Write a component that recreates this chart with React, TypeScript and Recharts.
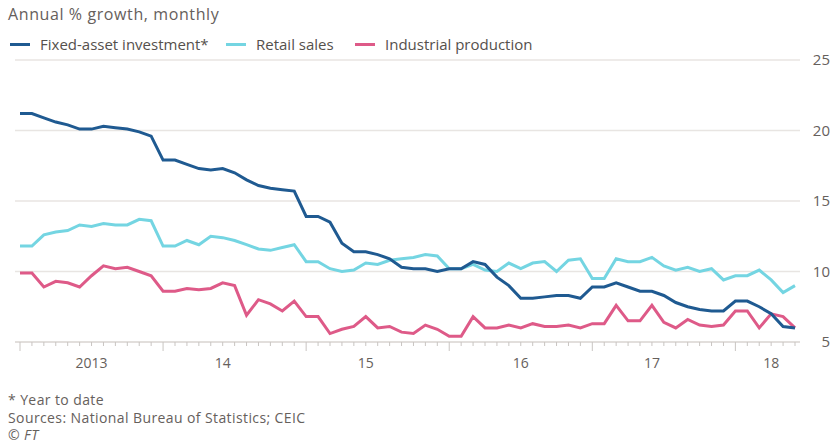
import { CartesianGrid, Line, LineChart, XAxis, YAxis } from "recharts"

const years = ["2013", "2014", "2015", "2016", "2017", "2018"]
const monthNames = ["Jan", "Feb", "Mar", "Apr", "May", "Jun", "Jul", "Aug", "Sep", "Oct", "Nov", "Dec"]
const months = years.flatMap((y) => monthNames.map((m) => `${m} ${y}`)).slice(0, 66)

// Fixed-asset investment, year to date
const fixedAsset = [
  21.2, 21.2, 20.9, 20.6, 20.4, 20.1, 20.1, 20.3, 20.2, 20.1, 19.9, 19.6,
  17.9, 17.9, 17.6, 17.3, 17.2, 17.3, 17.0, 16.5, 16.1, 15.9, 15.8, 15.7,
  13.9, 13.9, 13.5, 12.0, 11.4, 11.4, 11.2, 10.9, 10.3, 10.2, 10.2, 10.0,
  10.2, 10.2, 10.7, 10.5, 9.6, 9.0, 8.1, 8.1, 8.2, 8.3, 8.3, 8.1,
  8.9, 8.9, 9.2, 8.9, 8.6, 8.6, 8.3, 7.8, 7.5, 7.3, 7.2, 7.2,
  7.9, 7.9, 7.5, 7.0, 6.1, 6.0,
]

const retail = [
  11.8, 11.8, 12.6, 12.8, 12.9, 13.3, 13.2, 13.4, 13.3, 13.3, 13.7, 13.6,
  11.8, 11.8, 12.2, 11.9, 12.5, 12.4, 12.2, 11.9, 11.6, 11.5, 11.7, 11.9,
  10.7, 10.7, 10.2, 10.0, 10.1, 10.6, 10.5, 10.8, 10.9, 11.0, 11.2, 11.1,
  10.2, 10.2, 10.5, 10.1, 10.0, 10.6, 10.2, 10.6, 10.7, 10.0, 10.8, 10.9,
  9.5, 9.5, 10.9, 10.7, 10.7, 11.0, 10.4, 10.1, 10.3, 10.0, 10.2, 9.4,
  9.7, 9.7, 10.1, 9.4, 8.5, 9.0,
]

const industrial = [
  9.9, 9.9, 8.9, 9.3, 9.2, 8.9, 9.7, 10.4, 10.2, 10.3, 10.0, 9.7,
  8.6, 8.6, 8.8, 8.7, 8.8, 9.2, 9.0, 6.9, 8.0, 7.7, 7.2, 7.9,
  6.8, 6.8, 5.6, 5.9, 6.1, 6.8, 6.0, 6.1, 5.7, 5.6, 6.2, 5.9,
  5.4, 5.4, 6.8, 6.0, 6.0, 6.2, 6.0, 6.3, 6.1, 6.1, 6.2, 6.0,
  6.3, 6.3, 7.6, 6.5, 6.5, 7.6, 6.4, 6.0, 6.6, 6.2, 6.1, 6.2,
  7.2, 7.2, 6.0, 7.0, 6.8, 6.0,
]

const yTicks = [5, 10, 15, 20, 25]
const yearLabels: Record<string, string> = {
  "Jul 2013": "2013",
  "Jun 2014": "14",
  "Jun 2015": "15",
  "Jul 2016": "16",
  "Jun 2017": "17",
  "Apr 2018": "18",
}

const data = months.map((m, i) => ({
  month: m,
  fai: fixedAsset[i],
  retail: retail[i],
  ip: industrial[i],
}))

const COLORS = { fai: "#1f5a91", retail: "#74d5e2", ip: "#de5a88" }
const FONT = "'Open Sans', 'Noto Sans', sans-serif"
const GREY = "#66605c"

const MonthTick = ({ x, y, payload }: any) => {
  const isJan = String(payload.value).startsWith("Jan")
  const label = yearLabels[payload.value]
  return (
    <g>
      <line x1={x} x2={x} y1={y} y2={y + (isJan ? 9 : 4)} stroke="#c9c5c2" strokeWidth={1} />
      {label && (
        <text x={x} y={y + 26} textAnchor="middle" fill={GREY} fontSize={14} fontFamily={FONT}>
          {label}
        </text>
      )}
    </g>
  )
}

const ValueTick = ({ x, y, payload }: any) => (
  <text x={x + 22} y={y} dy={5} textAnchor="end" fill={GREY} fontSize={15} fontFamily={FONT}>
    {payload.value}
  </text>
)

const legendItems = [
  { label: "Fixed-asset investment*", color: COLORS.fai, left: 10 },
  { label: "Retail sales", color: COLORS.retail, left: 226 },
  { label: "Industrial production", color: COLORS.ip, left: 355 },
]

export default function App() {
  return (
    <div style={{ position: "absolute", left: 0, top: 0, width: 836, height: 443, background: "#fff", fontFamily: FONT }}>
      <div style={{ position: "absolute", left: 8, top: 3, fontSize: 16, letterSpacing: 0.6, color: GREY }}>
        Annual % growth, monthly
      </div>
      {legendItems.map((it) => (
        <div
          key={it.label}
          style={{ position: "absolute", left: it.left, top: 34, display: "flex", alignItems: "center", fontSize: 15, color: "#55504c" }}
        >
          <span style={{ display: "inline-block", width: 20, height: 3, background: it.color, marginRight: 10 }} />
          {it.label}
        </div>
      ))}
      <LineChart width={836} height={443} data={data} margin={{ top: 60, right: 0, bottom: 71, left: 15 }}>
        <CartesianGrid vertical={false} stroke="#e8e5e2" strokeWidth={1.5} />
        <XAxis
          dataKey="month"
          interval={0}
          height={30}
          padding={{ left: 5, right: 5 }}
          tickLine={false}
          tickSize={0}
          tickMargin={0}
          axisLine={{ stroke: "#d6d2cf" }}
          tick={<MonthTick />}
        />
        <YAxis
          orientation="right"
          width={36}
          domain={[5, 25]}
          ticks={yTicks}
          axisLine={false}
          tickLine={false}
          tick={<ValueTick />}
        />
        <Line dataKey="retail" stroke={COLORS.retail} strokeWidth={3} dot={false} isAnimationActive={false} />
        <Line dataKey="ip" stroke={COLORS.ip} strokeWidth={3} dot={false} isAnimationActive={false} />
        <Line dataKey="fai" stroke={COLORS.fai} strokeWidth={3} dot={false} isAnimationActive={false} />
      </LineChart>
      <div style={{ position: "absolute", left: 8, top: 391, fontSize: 14, letterSpacing: 0.4, lineHeight: "17.5px", color: GREY }}>
        <div>* Year to date</div>
        <div>Sources: National Bureau of Statistics; CEIC</div>
        <div style={{ fontStyle: "italic" }}>© FT</div>
      </div>
    </div>
  )
}
